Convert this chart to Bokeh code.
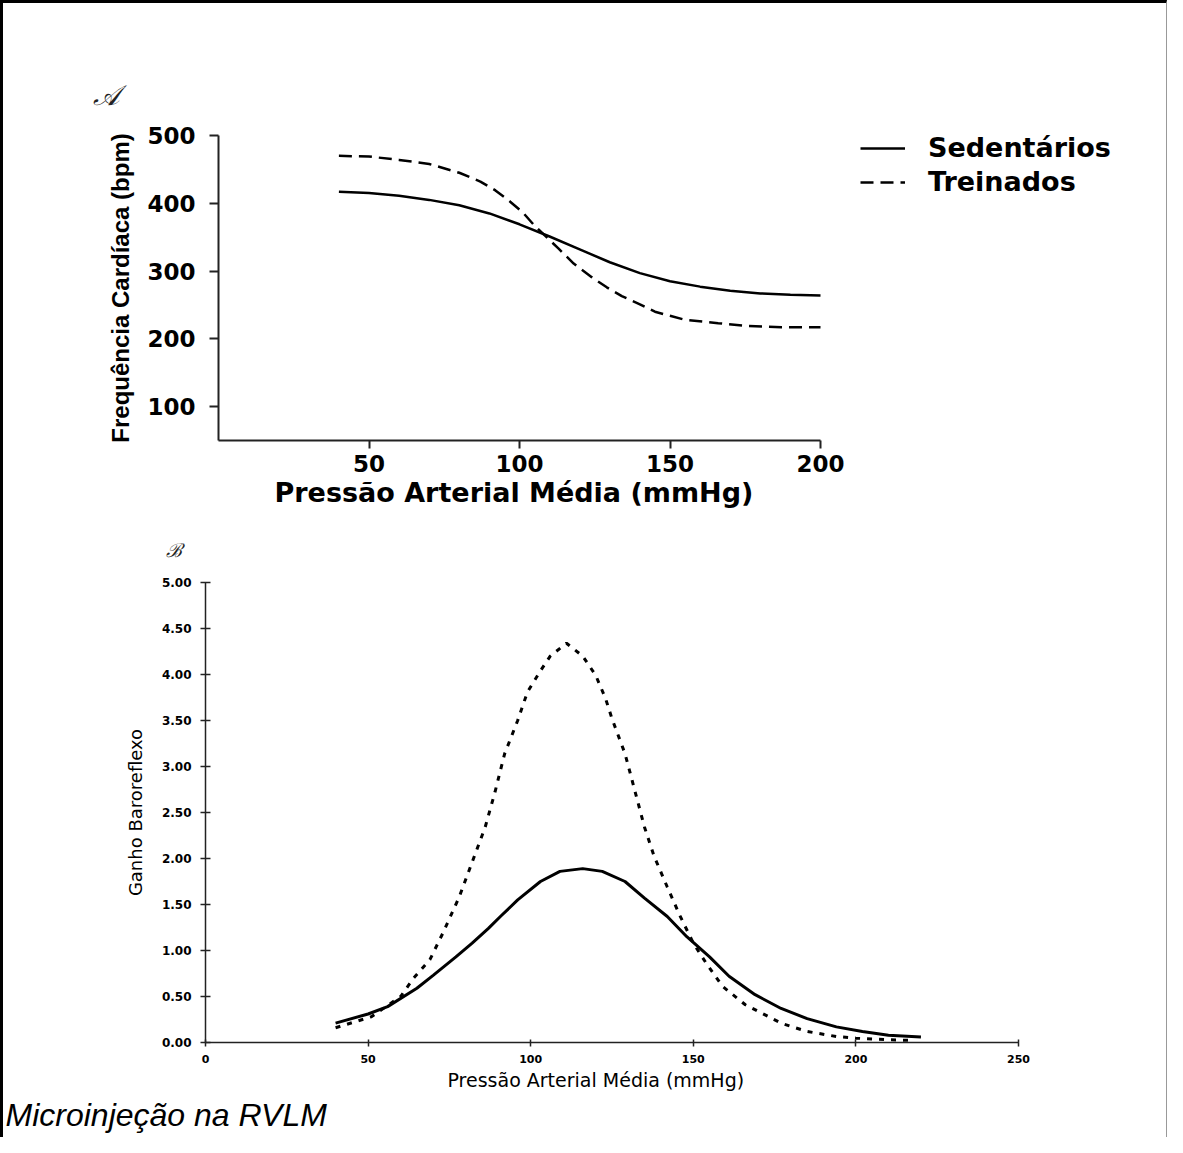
from bokeh.plotting import figure
from bokeh.models import Range1d, FixedTicker, NumeralTickFormatter, Legend, LegendItem, Title
from bokeh.layouts import column
from bokeh.embed import file_html
from bokeh.resources import INLINE

# ---------------- data: panel A (heart rate vs MAP) ----------------
sed_a_x = [40, 50, 60, 70, 80, 90, 100, 110, 120, 130, 140, 150, 160, 170, 180, 190, 200]
sed_a_y = [417, 415, 411, 405, 397, 385, 369, 351, 332, 313, 297, 285, 277, 271, 267, 265, 264]
tr_a_x = [40, 50, 60, 70, 80, 87, 92, 97, 101, 105, 109, 113, 118, 124, 129, 134, 140, 145, 150, 155, 166, 176, 187, 200]
tr_a_y = [470, 469, 464, 458, 445, 432, 419, 402, 387, 367, 350, 333, 311, 291, 276, 263, 251, 240, 234, 228, 223, 219, 217, 217]
a_xticks = [50, 100, 150, 200]
a_yticks = [100, 200, 300, 400, 500]
a_xlim = (0, 200)
a_ylim = (50, 500)

# ---------------- data: panel B (baroreflex gain vs MAP) ----------------
sed_b_x = [40, 50, 56, 65, 70, 77, 82, 87, 91, 96, 103, 109, 116, 122, 129, 135, 142, 148, 155, 161, 169, 177, 185, 194, 202, 210, 220]
sed_b_y = [0.21, 0.31, 0.39, 0.59, 0.73, 0.93, 1.08, 1.24, 1.38, 1.55, 1.75, 1.86, 1.89, 1.86, 1.75, 1.57, 1.37, 1.15, 0.93, 0.72, 0.52, 0.37, 0.26, 0.17, 0.12, 0.08, 0.06]
tr_b_x = [40, 51, 60, 64, 69, 73, 78, 82, 86, 89, 92, 96, 99, 103, 106, 111, 116, 120, 123, 125, 129, 132, 135, 138, 142, 146, 150, 154, 159, 166, 171, 177, 185, 194, 200, 210, 218]
tr_b_y = [0.16, 0.28, 0.50, 0.70, 0.90, 1.19, 1.58, 1.96, 2.34, 2.72, 3.14, 3.50, 3.81, 4.04, 4.20, 4.34, 4.20, 3.99, 3.74, 3.52, 3.14, 2.74, 2.34, 2.02, 1.69, 1.37, 1.08, 0.86, 0.61, 0.41, 0.32, 0.21, 0.12, 0.065, 0.047, 0.03, 0.022]
b_xticks = [0, 50, 100, 150, 200, 250]
b_yticks = [0, 0.5, 1.0, 1.5, 2.0, 2.5, 3.0, 3.5, 4.0, 4.5, 5.0]

series_names = ["Sedentários", "Treinados"]
a_xlabel = "Pressão Arterial Média (mmHg)"
a_ylabel = "Frequência Cardíaca (bpm)"
b_xlabel = "Pressão Arterial Média (mmHg)"
b_ylabel = "Ganho Baroreflexo"
caption = "Microinjeção na RVLM"
panel_a_tag = "𝒜"
panel_b_tag = "ℬ"

W = 1163
SPLIT = 515          # page row where panel B's figure starts
HA = SPLIT - 3
HB = 1134 - HA
BOLD = "DejaVu Sans"

def style_common(p):
    p.grid.visible = False
    p.outline_line_color = None
    p.background_fill_color = "white"
    p.border_fill_color = "white"
    for ax in (p.xaxis[0], p.yaxis[0]):
        ax.minor_tick_line_color = None
        ax.axis_line_color = "#222222"
        ax.major_tick_line_color = "#222222"
        ax.major_label_text_color = "black"
        ax.axis_label_text_color = "black"

# ---------------- panel A ----------------
# axis spans 602 px for 0..200; the frame is widened to the right so the
# legend (outside the data area) can sit inside it; the axis is bounded to 0..200
A_LEFT, A_AXIS_PX = 215, 602
frame_w = W - A_LEFT
x_end = a_xlim[0] + (a_xlim[1] - a_xlim[0]) * frame_w / A_AXIS_PX

pA = figure(width=W, height=HA, output_backend="svg", toolbar_location=None,
            x_range=Range1d(a_xlim[0], x_end), y_range=Range1d(*a_ylim),
            min_border_left=A_LEFT, min_border_right=0,
            min_border_top=132, min_border_bottom=HA - 437)
style_common(pA)
lA1 = pA.line(sed_a_x, sed_a_y, line_color="black", line_width=2.5)
lA2 = pA.line(tr_a_x, tr_a_y, line_color="black", line_width=2.5, line_dash="13 7")

pA.title.text = panel_a_tag
pA.title.align = "left"
pA.title.offset = -126
pA.title.standoff = 48
pA.title.text_font = "DejaVu Serif"
pA.title.text_font_style = "italic"
pA.title.text_font_size = "28px"
pA.title.text_color = "#222222"

xa = pA.xaxis[0]
xa.bounds = a_xlim
xa.ticker = FixedTicker(ticks=a_xticks)
xa.axis_line_width = 2
xa.major_tick_line_width = 2
xa.major_tick_in = 0
xa.major_tick_out = 8
xa.major_label_standoff = 6
xa.major_label_text_font = BOLD
xa.major_label_text_font_style = "bold"
xa.major_label_text_font_size = "23px"

# x-axis title of panel A, placed under the bounded axis (not the widened frame)
pA.add_layout(Title(text=a_xlabel, align="left", offset=56, standoff=0,
                    text_font=BOLD, text_font_style="bold", text_font_size="27px",
                    text_color="black"), "below")

ya = pA.yaxis[0]
ya.ticker = FixedTicker(ticks=a_yticks)
ya.axis_line_width = 2
ya.major_tick_line_width = 2
ya.major_tick_in = 0
ya.major_tick_out = 9
ya.major_label_standoff = 14
ya.major_label_text_font = BOLD
ya.major_label_text_font_style = "bold"
ya.major_label_text_font_size = "23px"
ya.axis_label = a_ylabel
ya.axis_label_text_font = "Liberation Sans"
ya.axis_label_text_font_style = "bold"
ya.axis_label_text_font_size = "24px"
ya.axis_label_standoff = 10

legA = Legend(items=[LegendItem(label=series_names[0], renderers=[lA1]),
                     LegendItem(label=series_names[1], renderers=[lA2])],
              location=(642, 243), orientation="vertical",
              glyph_width=45, glyph_height=30, label_height=30, label_width=240,
              spacing=3, label_standoff=23, padding=0, margin=0,
              border_line_color=None, background_fill_alpha=0,
              label_text_font=BOLD, label_text_font_style="bold",
              label_text_color="black",
              label_text_font_size="27px", label_text_baseline="middle")
pA.add_layout(legA)

# ---------------- panel B ----------------
B_TOP = 582 - SPLIT
B_BOTTOM = 1042 - SPLIT
pB = figure(width=W, height=HB, output_backend="svg", toolbar_location=None,
            x_range=Range1d(0, 250), y_range=Range1d(0, 5),
            min_border_left=202, min_border_right=W - 1015,
            min_border_top=B_TOP, min_border_bottom=HB - B_BOTTOM)
style_common(pB)
pB.line(sed_b_x, sed_b_y, line_color="black", line_width=3)
pB.line(tr_b_x, tr_b_y, line_color="black", line_width=3, line_dash="5 7")

pB.title.text = panel_b_tag
pB.title.align = "left"
pB.title.offset = -40
pB.title.standoff = 43
pB.title.text_font = "DejaVu Serif"
pB.title.text_font_style = "italic"
pB.title.text_font_size = "19px"
pB.title.text_color = "#222222"

xb = pB.xaxis[0]
xb.ticker = FixedTicker(ticks=b_xticks)
xb.axis_line_width = 1.5
xb.major_tick_line_width = 1.5
xb.major_tick_in = 3
xb.major_tick_out = 4
xb.major_label_standoff = 8
xb.major_label_text_font = BOLD
xb.major_label_text_font_style = "bold"
xb.major_label_text_font_size = "11px"

pB.add_layout(Title(text=b_xlabel, align="left", offset=242, standoff=3,
                    text_font="DejaVu Sans", text_font_style="normal",
                    text_font_size="19px", text_color="black"), "below")

yb = pB.yaxis[0]
yb.ticker = FixedTicker(ticks=b_yticks)
yb.formatter = NumeralTickFormatter(format="0.00")
yb.axis_line_width = 1.5
yb.major_tick_line_width = 1.5
yb.major_tick_in = 5
yb.major_tick_out = 5
yb.major_label_standoff = 9
yb.major_label_text_font = BOLD
yb.major_label_text_font_style = "bold"
yb.major_label_text_font_size = "12px"
yb.axis_label = b_ylabel
yb.axis_label_text_font = "DejaVu Sans"
yb.axis_label_text_font_style = "normal"
yb.axis_label_text_font_size = "18px"
yb.axis_label_standoff = 13

pB.add_layout(Title(text=caption, align="left", offset=-200, standoff=4,
                    text_font="Liberation Sans", text_font_size="32px",
                    text_font_style="italic", text_color="black"), "below")

boxA = column(pA, styles={"border-top": "3px solid black",
                          "border-left": "3px solid black",
                          "border-right": "1px solid #999999"})
boxB = column(pB, styles={"border-left": "3px solid black",
                          "border-right": "1px solid #999999"})

open("out.html", "w").write(file_html([boxA, boxB], INLINE))
